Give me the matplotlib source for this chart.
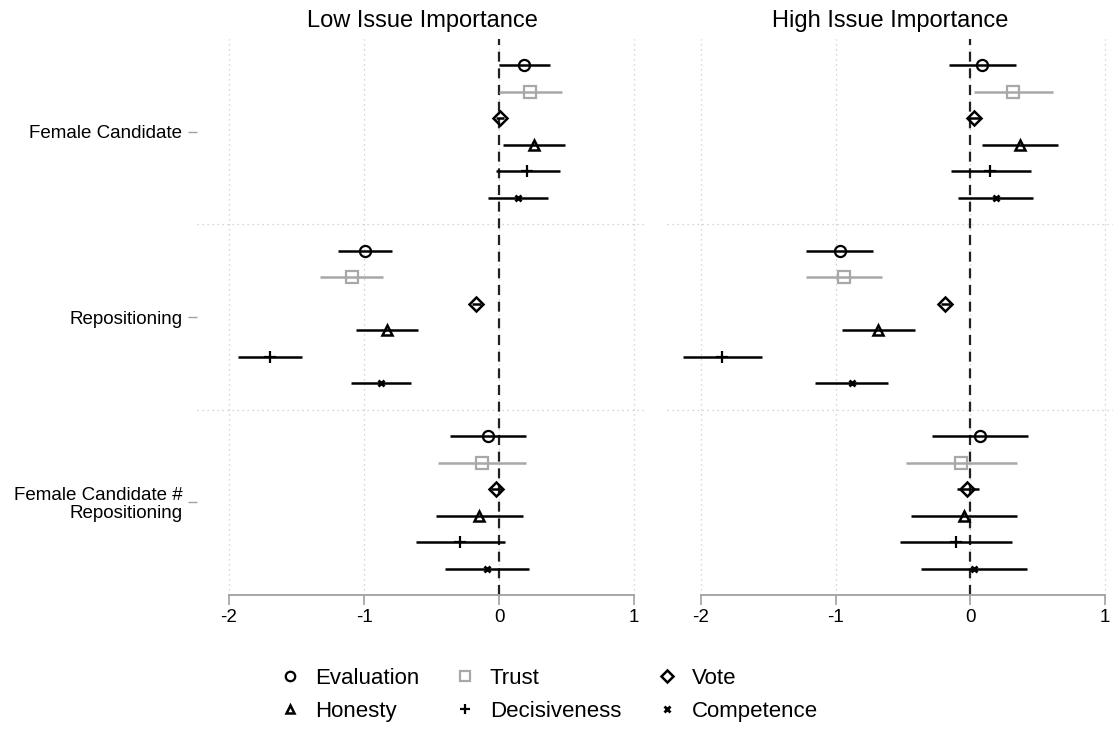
import matplotlib
matplotlib.use("Agg")
import matplotlib.pyplot as plt
from matplotlib.lines import Line2D
import numpy as np

plt.rcParams['font.family'] = ['Liberation Sans', 'DejaVu Sans']

# ---------------- data ----------------
outcomes = ["Evaluation", "Trust", "Vote", "Honesty", "Decisiveness", "Competence"]
terms = ["Female Candidate", "Repositioning", "Female Candidate #\nRepositioning"]
panel_titles = ["Low Issue Importance", "High Issue Importance"]
xticks = [-2, -1, 0, 1]

# rows = terms, columns = outcomes
low_coef = [[0.185, 0.23, 0.01, 0.26, 0.21, 0.14],
            [-0.995, -1.09, -0.168, -0.827, -1.70, -0.874],
            [-0.08, -0.124, -0.022, -0.146, -0.287, -0.089]]
low_lo = [[0.0, 0.0, -0.02, 0.03, -0.02, -0.08],
          [-1.19, -1.326, -0.20, -1.06, -1.93, -1.096],
          [-0.36, -0.45, -0.06, -0.467, -0.615, -0.40]]
low_hi = [[0.38, 0.465, 0.04, 0.49, 0.45, 0.36],
          [-0.79, -0.86, -0.13, -0.60, -1.46, -0.65],
          [0.198, 0.20, 0.03, 0.18, 0.047, 0.224]]

high_coef = [[0.087, 0.315, 0.025, 0.366, 0.148, 0.188],
             [-0.97, -0.94, -0.186, -0.683, -1.84, -0.88],
             [0.069, -0.069, -0.025, -0.05, -0.106, 0.025]]
high_lo = [[-0.16, 0.025, -0.02, 0.087, -0.146, -0.094],
           [-1.218, -1.22, -0.22, -0.955, -2.13, -1.15],
           [-0.282, -0.48, -0.10, -0.44, -0.52, -0.364]]
high_hi = [[0.34, 0.61, 0.07, 0.65, 0.448, 0.465],
           [-0.725, -0.653, -0.15, -0.408, -1.55, -0.61],
           [0.428, 0.347, 0.067, 0.35, 0.31, 0.423]]

# ---------------- styles ----------------
GRAY = "#a8a8a8"
styles = {
    "Evaluation":   dict(marker='o', color='black', ms=8, mfc='none', mew=1.6),
    "Trust":        dict(marker='s', color=GRAY, ms=8, mfc='none', mew=1.6),
    "Vote":         dict(marker='D', color='black', ms=7, mfc='none', mew=1.8),
    "Honesty":      dict(marker='^', color='black', ms=7, mfc='none', mew=1.8),
    "Decisiveness": dict(marker='+', color='black', ms=9, mfc='black', mew=1.6),
    "Competence":   dict(marker='x', color='black', ms=5, mfc='black', mew=2.0),
}

fig = plt.figure(figsize=(11.13, 7.31), dpi=100)
W, H = 1113, 731
top, bottom = 39, 595
axes_px = [(197, 647), (667, 1113)]
xlims = [(-2.237, 1.096), (-2.252, 1.059)]
data = [(low_coef, low_lo, low_hi), (high_coef, high_lo, high_hi)]

for p in range(2):
    x0, x1 = axes_px[p]
    ax = fig.add_axes([x0 / W, 1 - bottom / H, (x1 - x0) / W, (bottom - top) / H])
    coef, lo, hi = data[p]
    ax.set_xlim(*xlims[p])
    ax.set_ylim(21, 0)

    # grid
    for xv in xticks:
        ax.axvline(xv, color='#c8c8c8', lw=0.9, ls=(0, (1, 3)), zorder=0)
    for yv in [7, 14]:
        ax.axhline(yv, color='#c8c8c8', lw=0.9, ls=(0, (1, 3)), zorder=0)
    ax.axvline(0, color='#222222', lw=1.6, ls=(0, (4.5, 3)), zorder=1)

    for t in range(3):
        for k, name in enumerate(outcomes):
            y = t * 7 + k + 1
            c = coef[t][k]
            st = styles[name]
            ax.hlines(y, lo[t][k], hi[t][k], color=st['color'], lw=1.8, zorder=2)
            ax.plot([c], [y], linestyle='none', marker=st['marker'], color=st['color'],
                    ms=st['ms'], mfc=st['mfc'], mec=st['color'], mew=st['mew'], zorder=3)

    for s in ['top', 'right', 'left']:
        ax.spines[s].set_visible(False)
    ax.spines['bottom'].set_color('#a0a0a0')
    ax.spines['bottom'].set_linewidth(1.3)
    ax.spines['bottom'].set_bounds(-2, 1)
    ax.set_xticks(xticks)
    ax.set_xticklabels([str(v) for v in xticks])
    ax.tick_params(axis='x', length=7, width=1.2, color='#a0a0a0', pad=3, labelsize=13.5)

    if p == 0:
        ax.set_yticks([3.5, 10.5, 17.5])
        ax.set_yticklabels(terms, multialignment='right', linespacing=1.05)
        ax.tick_params(axis='y', length=6.5, width=1.0, color='#a0a0a0', pad=4, labelsize=13.5)
    else:
        ax.set_yticks([])

    fig.text((x0 + x1) / 2 / W, 1 - 21 / H, panel_titles[p], ha='center', va='center', fontsize=17)

# legend (row-wise order: Evaluation, Trust, Vote / Honesty, Decisiveness, Competence)
order = ["Evaluation", "Honesty", "Trust", "Decisiveness", "Vote", "Competence"]
handles = []
for name in order:
    st = styles[name]
    handles.append(Line2D([], [], linestyle='none', marker=st['marker'], color=st['color'],
                          ms=st['ms'] * 0.85, mfc=st['mfc'], mec=st['color'], mew=st['mew']))
fig.legend(handles, order, ncol=3, loc='center', bbox_to_anchor=(548.5 / W, 1 - 695 / H),
           frameon=False, fontsize=16, handlelength=1.0, handletextpad=0.63,
           columnspacing=1.55, labelspacing=0.53, borderpad=0.2)

fig.savefig("out.png", dpi=100)
